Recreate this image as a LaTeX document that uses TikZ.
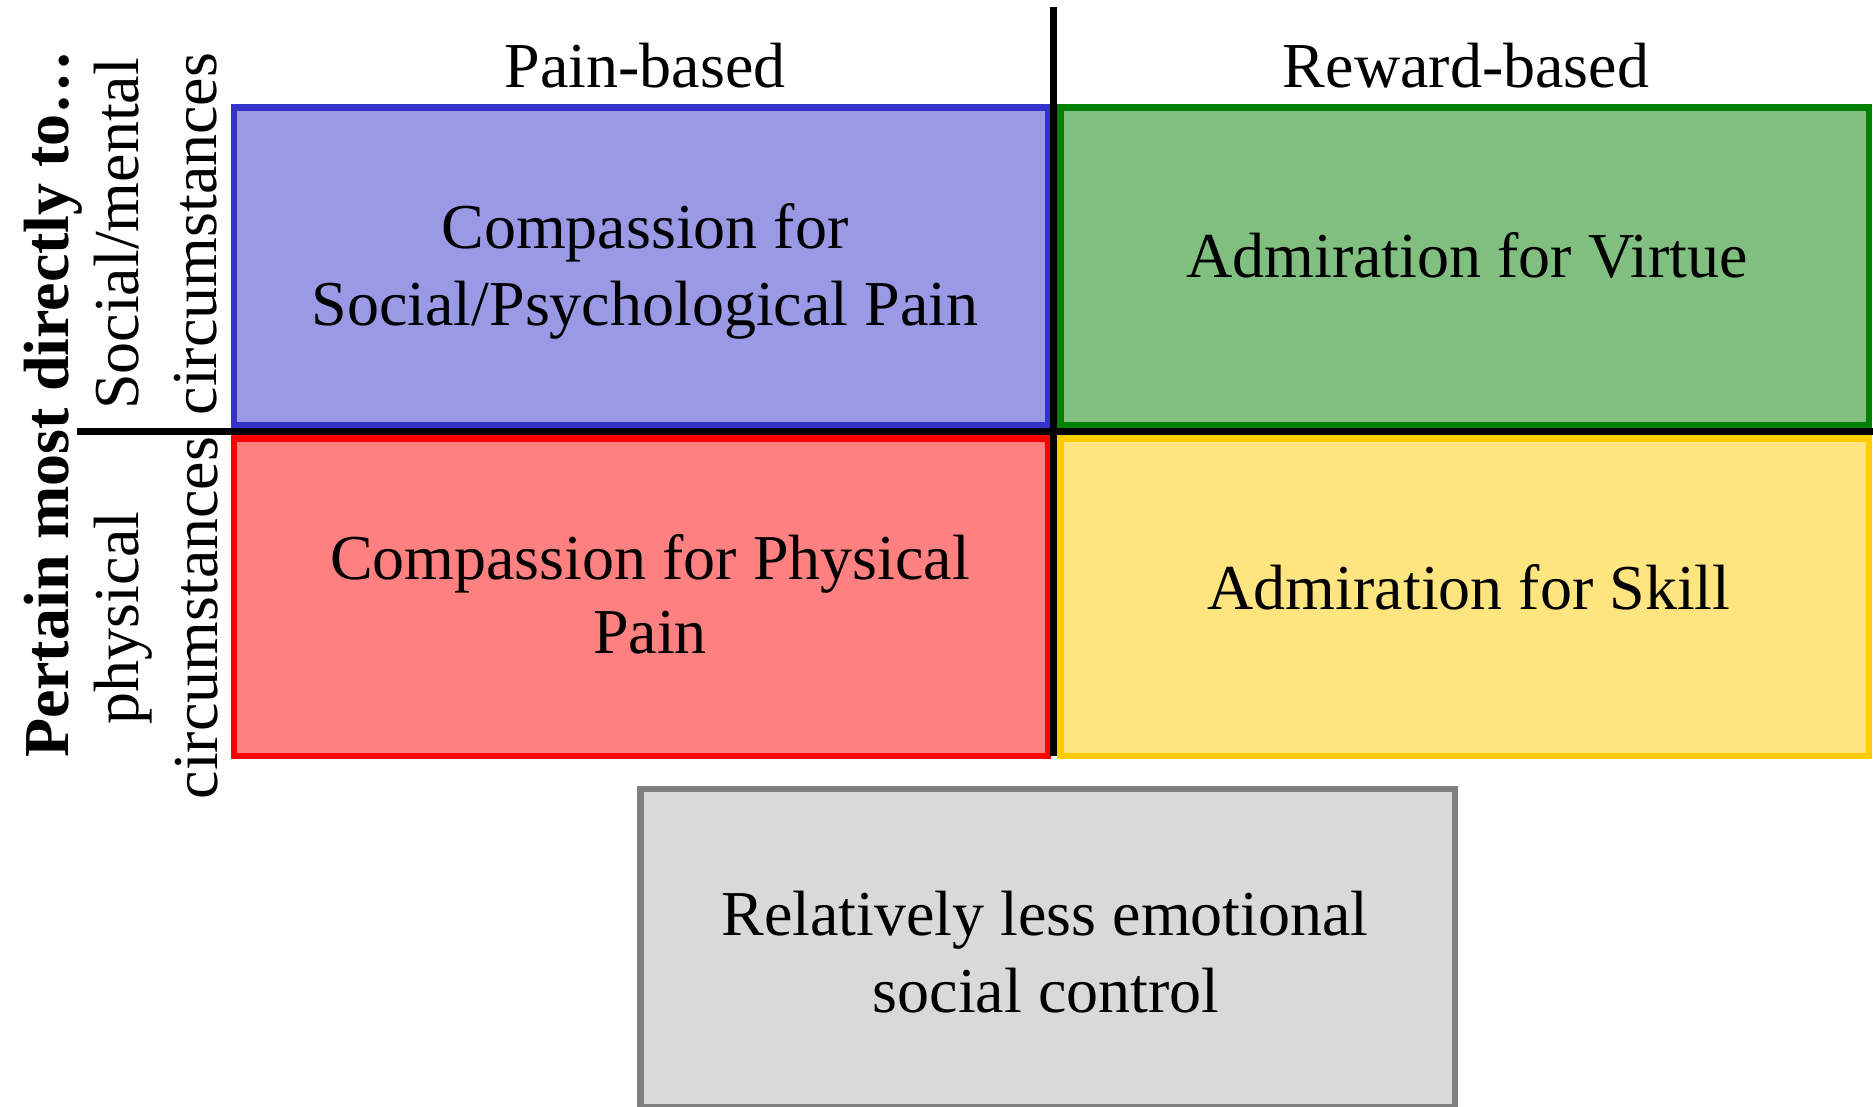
\documentclass[tikz,border=0pt]{standalone}
\usepackage{fontspec}
\setmainfont{Liberation Serif}
\definecolor{bstroke}{HTML}{3333CC}
\definecolor{bfill}{HTML}{9999E6}
\definecolor{gstroke}{HTML}{008000}
\definecolor{gfill}{HTML}{80BF80}
\definecolor{rstroke}{HTML}{FF0000}
\definecolor{rfill}{HTML}{FF8080}
\definecolor{ystroke}{HTML}{FFCC00}
\definecolor{yfill}{HTML}{FFE580}
\definecolor{kstroke}{HTML}{808080}
\definecolor{kfill}{HTML}{D9D9D9}
\begin{document}
\begin{tikzpicture}[x=1pt,y=-1pt,
  quad/.style={draw, line width=6.5pt, inner sep=0pt, outer sep=0pt, rectangle},
  lbl/.style={font=\fontsize{64}{77}\selectfont, inner sep=0pt, outer sep=0pt, anchor=base},
  vlbl/.style={lbl, rotate=90},
  divider/.style={line width=7pt, black}]
\useasboundingbox[fill=white] (0,0) rectangle (1873,1106);

% quadrant boxes
\node[quad, draw=bstroke, fill=bfill, minimum width=813.75pt, minimum height=317.5pt] (blue) at (641.1,266) {};
\node[quad, draw=gstroke, fill=gfill, minimum width=808.5pt, minimum height=317.5pt] (green) at (1464.5,266) {};
\node[quad, draw=rstroke, fill=rfill, minimum width=813.75pt, minimum height=317.5pt] (red) at (641.1,597) {};
\node[quad, draw=ystroke, fill=yfill, minimum width=808.5pt, minimum height=317.5pt] (yellow) at (1464.5,597) {};
\node[quad, draw=kstroke, fill=kfill, minimum width=814.5pt, minimum height=317.75pt] (gray) at (1047.5,948.1) {};

% dividers
\coordinate (hl) at (77,431.7);
\coordinate (hr) at (1873,431.7);
\coordinate (vt) at (1053.7,7);
\coordinate (vb) at (1053.7,756);
\draw[divider] (hl) -- (hr);
\draw[divider] (vt) -- (vb);

% column headers
\node[lbl] (painhdr) at (645,87) {Pain-based};
\node[lbl] (rewardhdr) at (1466,87) {Reward-based};

% box texts
\node[lbl] (t1a) at (645,248) {Compassion for};
\node[lbl] (t1b) at (645,325) {Social/Psychological Pain};
\node[lbl] (t2) at (1467,277) {Admiration for Virtue};
\node[lbl] (t3a) at (650,579) {Compassion for Physical};
\node[lbl] (t3b) at (650,653) {Pain};
\node[lbl] (t4) at (1469,609) {Admiration for Skill};
\node[lbl] (t5a) at (1045,935) {Relatively less emotional};
\node[lbl] (t5b) at (1046,1012) {social control};

% row labels (rotated)
\node[vlbl, font=\fontsize{64}{77}\selectfont\bfseries] (axis) at (68,404) {Pertain most directly to…};
\node[vlbl] (r1a) at (138,234) {Social/mental};
\node[vlbl] (r1b) at (216,234) {circumstances};
\node[vlbl] (r2a) at (138,618) {physical};
\node[vlbl] (r2b) at (217,618) {circumstances};
\end{tikzpicture}
\end{document}
